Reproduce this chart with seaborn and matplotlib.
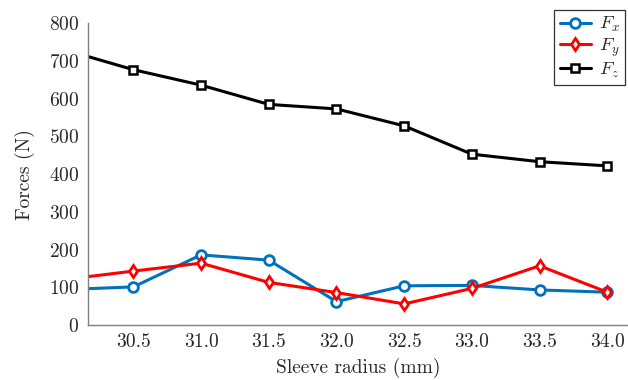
import numpy as np
import pandas as pd
import matplotlib
matplotlib.use("Agg")
import matplotlib.pyplot as plt
import seaborn as sns

# values (N)
radius = [30.0, 30.5, 31.0, 31.5, 32.0, 32.5, 33.0, 33.5, 34.0]
fx = [94, 101, 186, 172, 62, 104, 105, 93, 87]
fy = [121, 143, 164, 113, 86, 56, 97, 157, 87]
fz = [729, 677, 636, 585, 573, 528, 453, 433, 422]
xticks = [30.5, 31.0, 31.5, 32.0, 32.5, 33.0, 33.5, 34.0]
yticks = [0, 100, 200, 300, 400, 500, 600, 700, 800]

BLUE = "#0072BD"
RED = "#FF0000"
AXIS_GREY = "#808080"

sns.set_style("white")
plt.rcParams.update({
    "font.family": "serif",
    "font.serif": ["cmr10", "DejaVu Serif"],
    "mathtext.fontset": "cm",
    "axes.formatter.use_mathtext": True,
    "font.size": 14,
})

fig = plt.figure(figsize=(6.28, 3.8), dpi=100)
ax = fig.add_axes([0.1397, 0.1447, 0.8603, 0.794])

sns.lineplot(x=radius, y=fx, ax=ax, color=BLUE, lw=2.2, marker="o", ms=7,
             mfc="white", mec=BLUE, mew=2, label=r"$F_x$")
sns.lineplot(x=radius, y=fy, ax=ax, color=RED, lw=2.2, marker="d", ms=6,
             mfc="white", mec=RED, mew=2, label=r"$F_y$")
sns.lineplot(x=radius, y=fz, ax=ax, color="black", lw=2.2, marker="s", ms=6,
             mfc="white", mec="black", mew=1.8, label=r"$F_z$")

ax.set_xlim(30.163, 34.153)
ax.set_ylim(0, 800)
ax.set_xticks(xticks)
ax.set_xticklabels([f"{t:.1f}" for t in xticks])
ax.set_yticks(yticks)
ax.set_xlabel("Sleeve radius (mm)", labelpad=5)
ax.set_ylabel("Forces (N)", labelpad=10)

for side in ["top", "right"]:
    ax.spines[side].set_visible(False)
for side in ["left", "bottom"]:
    ax.spines[side].set_color(AXIS_GREY)
    ax.spines[side].set_linewidth(1.0)
ax.tick_params(direction="in", length=4, color=AXIS_GREY, labelsize=14, pad=6)

ax.get_legend().remove()
handles, labels = ax.get_legend_handles_labels()
leg = fig.legend(handles, labels, loc="upper right", bbox_to_anchor=(0.996, 0.975),
                 frameon=True, fancybox=False, edgecolor="black", fontsize=13.5,
                 handlelength=1.7, handletextpad=0.4, borderpad=0.3,
                 labelspacing=0.1, borderaxespad=0)
leg.get_frame().set_linewidth(0.9)

plt.savefig("out.png", dpi=100)
plt.close()
